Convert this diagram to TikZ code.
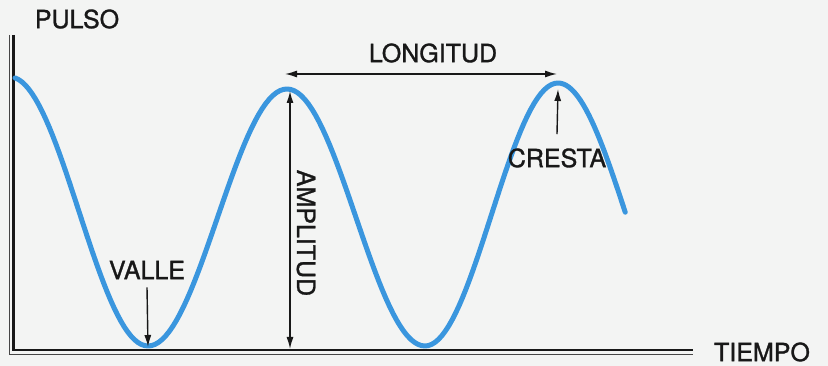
\documentclass[tikz,border=0pt]{standalone}
\usepackage{fontspec}
\setmainfont{TeX Gyre Heros}[BoldFont=TeX Gyre Heros, BoldFeatures={FakeBold=1.2}]
\usetikzlibrary{arrows.meta}
\definecolor{wave}{RGB}{58,150,222}
\definecolor{bg}{RGB}{243,244,243}
\definecolor{ink}{RGB}{24,24,24}
\begin{document}
\begin{tikzpicture}[x=1pt,y=-1pt,
  lbl/.style={font=\fontsize{25}{28}\selectfont\bfseries, text=ink, inner sep=0pt},
  tip/.style={Latex[length=12pt,width=7pt]},
  dim/.style={line width=1.4pt, draw=ink, -{Latex[length=12pt,width=7pt]}},
  dimboth/.style={line width=1.4pt, draw=ink, {Latex[length=12pt,width=7pt]}-{Latex[length=12pt,width=7pt]}},
  wavestyle/.style={line width=5pt, draw=wave, line cap=round, line join=round},
  axisthick/.style={line width=2.6pt, draw=ink},
  axisthin/.style={line width=1pt, draw=ink!80}]
\fill[bg] (0,0) rectangle (828,366);
\useasboundingbox (0,0) rectangle (828,366);

% axes (double line)
\coordinate (vtopA) at (9.5,35);
\coordinate (cornA) at (9.5,354);
\coordinate (hendA) at (693,354);
\coordinate (vtopB) at (13.5,35);
\coordinate (cornB) at (13.5,350);
\coordinate (hendB) at (693,350);
\draw[axisthin] (vtopA) -- (cornA) -- (hendA);
\draw[axisthick] (vtopB) -- (cornB) -- (hendB);

% wave
\draw[wavestyle]
  plot[domain=6.5:180,samples=40] ({10+\x/180*138},{77+269*(1-cos(\x))/2})
  -- plot[domain=0:180,samples=40] ({148+\x/180*139},{346-257*(1-cos(\x))/2})
  -- plot[domain=0:180,samples=40] ({287+\x/180*138},{89+257*(1-cos(\x))/2})
  -- plot[domain=0:180,samples=40] ({425+\x/180*133},{346-263*(1-cos(\x))/2})
  -- plot[domain=0:89,samples=25] ({558+\x/180*136},{83+263*(1-cos(\x))/2});

% key points
\coordinate (trough) at (148,347);
\coordinate (amptop) at (290,91);
\coordinate (ampbot) at (290,349);
\coordinate (lonL) at (285,74);
\coordinate (lonR) at (557,74);
\coordinate (crest) at (558,89);

% labels
\node[lbl] (pulso) at (77,19) {PULSO};
\node[lbl] (longitud) at (433,53) {LONGITUD};
\node[lbl] (tiempo) at (762,352) {TIEMPO};
\node[lbl] (valle) at (147,270) {VALLE};
\node[lbl,rotate=-90] (amplitud) at (306,233) {AMPLITUD};
\node[lbl] (cresta) at (557,158) {CRESTA};

% dimension arrows
\draw[dimboth] (lonL) -- (lonR);
\draw[dimboth] (amptop) -- (ampbot);
\draw[dim] ([yshift=-8pt]valle.south) -- (trough);
\draw[dim] ([yshift=14pt]cresta.north) -- (crest);
\end{tikzpicture}
\end{document}
